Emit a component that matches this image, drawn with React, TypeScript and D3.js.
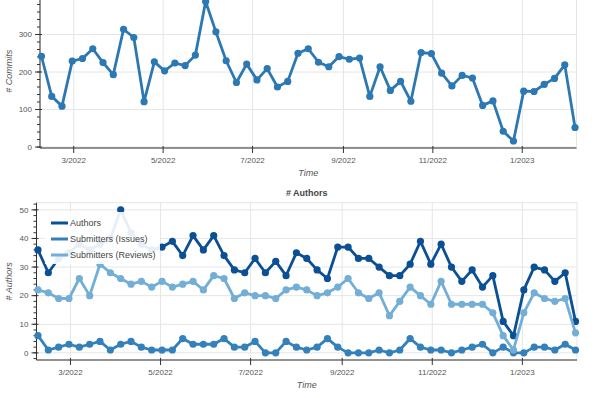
import React from 'react';
import * as d3 from 'd3';

// weekly buckets (Mondays)
const weeks = [
  '2022-02-07', '2022-02-14', '2022-02-21', '2022-02-28', '2022-03-07', '2022-03-14', '2022-03-21', '2022-03-28',
  '2022-04-04', '2022-04-11', '2022-04-18', '2022-04-25', '2022-05-02', '2022-05-09', '2022-05-16', '2022-05-23',
  '2022-05-30', '2022-06-06', '2022-06-13', '2022-06-20', '2022-06-27', '2022-07-04', '2022-07-11', '2022-07-18',
  '2022-07-25', '2022-08-01', '2022-08-08', '2022-08-15', '2022-08-22', '2022-08-29', '2022-09-05', '2022-09-12',
  '2022-09-19', '2022-09-26', '2022-10-03', '2022-10-10', '2022-10-17', '2022-10-24', '2022-10-31', '2022-11-07',
  '2022-11-14', '2022-11-21', '2022-11-28', '2022-12-05', '2022-12-12', '2022-12-19', '2022-12-26', '2023-01-02',
  '2023-01-09', '2023-01-16', '2023-01-23', '2023-01-30', '2023-02-06',
];

const commits = [
  242, 135, 109, 229, 236, 262, 225, 193, 314, 292, 121, 227, 203, 224, 217, 245,
  388, 307, 230, 172, 221, 179, 209, 160, 175, 250, 262, 226, 214, 241, 234, 237,
  135, 214, 151, 175, 122, 252, 249, 197, 163, 191, 184, 111, 123, 42, 16, 149,
  148, 167, 183, 219, 52,
];

const authors = [
  36, 28, 33, 35, 38, 36, 38, 40, 50, 42, 38, 36, 37, 39, 34, 41,
  36, 41, 34, 29, 28, 33, 28, 32, 27, 35, 33, 29, 26, 37, 37, 33,
  33, 30, 27, 27, 31, 39, 31, 38, 30, 25, 29, 23, 27, 11, 6, 22,
  30, 29, 25, 28, 11,
];

const issues = [
  6, 1, 2, 3, 2, 3, 4, 1, 3, 4, 2, 1, 1, 1, 5, 3,
  3, 3, 5, 2, 2, 4, 0, 0, 4, 2, 1, 2, 5, 2, 0, 0,
  0, 1, 0, 1, 5, 2, 1, 1, 0, 1, 2, 3, 0, 2, 0, 0,
  2, 2, 1, 3, 1,
];

const reviews = [
  22, 21, 19, 19, 26, 20, 31, 28, 26, 24, 25, 23, 25, 23, 24, 25,
  22, 27, 26, 19, 21, 20, 20, 19, 22, 23, 22, 20, 21, 23, 26, 21,
  19, 21, 13, 18, 23, 20, 17, 25, 17, 17, 17, 17, 14, 6, 1, 14,
  21, 19, 18, 19, 7,
];

const seriesNames = ['Authors', 'Submitters (Issues)', 'Submitters (Reviews)'];
const seriesColors = ['#0b4f94', '#3380bb', '#72aed5'];

const W = 600;
const H = 398;
const FONT = '"Liberation Sans", Arial, sans-serif';

const parse = d3.utcParse('%Y-%m-%d');
const dates = weeks.map((w) => parse(w) as Date);
const xDomain = [d3.utcDay.offset(dates[0], -1), d3.utcDay.offset(dates[dates.length - 1], 1)];
const fmt = d3.utcFormat('%-m/%Y');

type Panel = {
  x0: number; x1: number; y0: number; y1: number;
  yDomain: [number, number]; yTicks: number[]; minorStep: number;
};

function Axes({ p, x, y, yLabel }: { p: Panel; x: d3.ScaleTime<number, number>; y: d3.ScaleLinear<number, number>; yLabel: string }) {
  const xt = x.ticks(d3.utcMonth.every(2) as d3.TimeInterval);
  const minor = d3.range(Math.ceil(p.yDomain[0] / p.minorStep) * p.minorStep, p.yDomain[1], p.minorStep);
  return (
    <g>
      <rect x={p.x0} y={p.y1} width={p.x1 - p.x0} height={p.y0 - p.y1} fill="none" stroke="#e5e5e5" />
      {xt.map((t, i) => (
        <line key={'gx' + i} x1={x(t)} x2={x(t)} y1={p.y0} y2={p.y1} stroke="#e6e6e6" />
      ))}
      {p.yTicks.map((v) => (
        <line key={'gy' + v} x1={p.x0} x2={p.x1} y1={y(v)} y2={y(v)} stroke="#e6e6e6" />
      ))}
      {/* x axis */}
      <line x1={p.x0} x2={p.x1} y1={p.y0} y2={p.y0} stroke="#333" />
      {xt.map((t, i) => (
        <g key={'tx' + i} transform={`translate(${x(t)},${p.y0})`}>
          <line y1={-2} y2={5} stroke="#333" />
          <text y={15} textAnchor="middle" fontSize={8} fill="#555" fontFamily={FONT}>{fmt(t)}</text>
        </g>
      ))}
      <text x={(p.x0 + p.x1) / 2} y={p.y0 + 28} textAnchor="middle" fontSize={9} fontStyle="italic" fill="#555" fontFamily={FONT}>Time</text>
      {/* y axis */}
      <line x1={p.x0} x2={p.x0} y1={p.y0} y2={p.y1} stroke="#333" />
      {minor.map((v) => (
        <line key={'my' + v} x1={p.x0 - 3} x2={p.x0} y1={y(v)} y2={y(v)} stroke="#333" />
      ))}
      {p.yTicks.map((v) => (
        <g key={'ty' + v} transform={`translate(${p.x0},${y(v)})`}>
          <line x1={-5} x2={2} stroke="#333" />
          <text x={-8} dy="0.35em" textAnchor="end" fontSize={8} fill="#555" fontFamily={FONT}>{v}</text>
        </g>
      ))}
      <text transform={`translate(12,${(p.y0 + p.y1) / 2}) rotate(-90)`} textAnchor="middle" fontSize={9} fontStyle="italic" fill="#555" fontFamily={FONT}>{yLabel}</text>
    </g>
  );
}

function Series({ values, color, x, y }: { values: number[]; color: string; x: any; y: any }) {
  const line = d3.line<number>().x((_, i) => x(dates[i])).y((d) => y(d));
  return (
    <g>
      <path d={line(values) || ''} fill="none" stroke={color} strokeWidth={2.8} strokeLinejoin="round" />
      {values.map((v, i) => (
        <circle key={i} cx={x(dates[i])} cy={y(v)} r={3.6} fill={color} />
      ))}
    </g>
  );
}

export default function App() {
  // top panel runs past the top edge of the picture (cropped like the reference)
  const top: Panel = { x0: 40, x1: 576.5, y0: 148, y1: -5.5, yDomain: [-2.6, 406.6], yTicks: [0, 100, 200, 300], minorStep: 20 };
  const bot: Panel = { x0: 36.5, x1: 577, y0: 360, y1: 202.7, yDomain: [-2.5, 52.5], yTicks: [0, 10, 20, 30, 40, 50], minorStep: 2 };

  const xt = d3.scaleUtc().domain(xDomain).range([top.x0, top.x1]);
  const yt = d3.scaleLinear().domain(top.yDomain).range([top.y0, top.y1]);
  const xb = d3.scaleUtc().domain(xDomain).range([bot.x0, bot.x1]);
  const yb = d3.scaleLinear().domain(bot.yDomain).range([bot.y0, bot.y1]);

  const botSeries = [authors, issues, reviews];

  return (
    <svg width={W} height={H} style={{ position: 'absolute', left: 0, top: 0, background: '#fff' }}>
      <rect width={W} height={H} fill="#fff" />
      <Axes p={top} x={xt} y={yt} yLabel="# Commits" />
      <Series values={commits} color="#2c78b3" x={xt} y={yt} />

      <text x={(bot.x0 + bot.x1) / 2} y={196} textAnchor="middle" fontSize={9} fontWeight="bold" fill="#444" fontFamily={FONT}># Authors</text>
      <Axes p={bot} x={xb} y={yb} yLabel="# Authors" />
      {botSeries.map((s, k) => (
        <Series key={k} values={s} color={seriesColors[k]} x={xb} y={yb} />
      ))}

      <g transform="translate(45,212)">
        <rect width={115} height={52} fill="#fff" fillOpacity={0.9} />
        {seriesNames.map((n, k) => (
          <g key={n} transform={`translate(0,${11 + k * 16})`}>
            <line x1={6} x2={23} stroke={seriesColors[k]} strokeWidth={3} />
            <text x={25} dy="0.35em" fontSize={9} fill="#444" fontFamily={FONT}>{n}</text>
          </g>
        ))}
      </g>
    </svg>
  );
}
